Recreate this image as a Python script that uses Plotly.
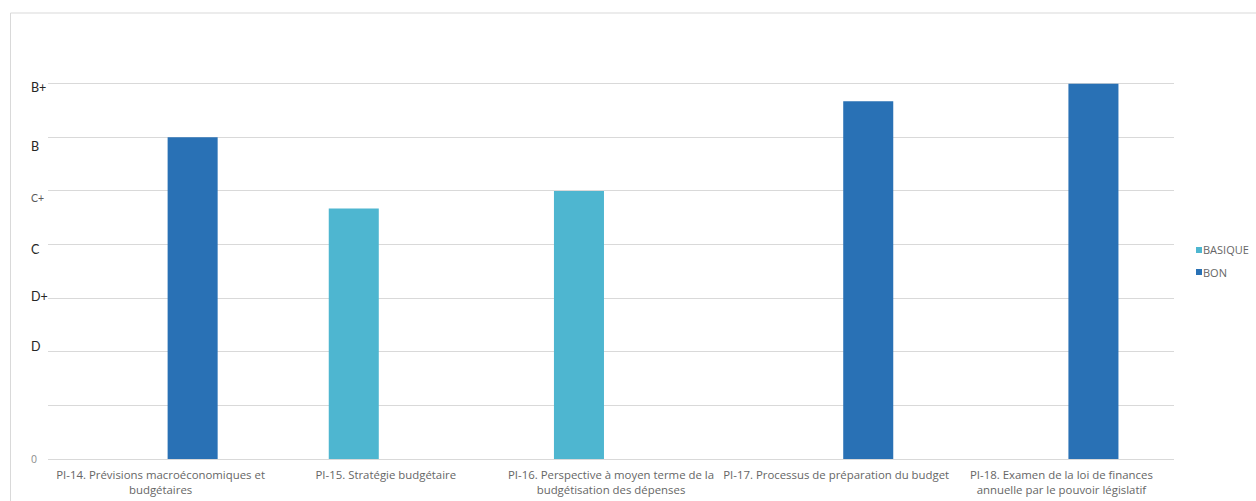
import plotly.graph_objects as go

# Indicateurs PEFA (PI-14 à PI-18) et notes converties sur une échelle numérique
categories = [
    "PI-14. Prévisions macroéconomiques et<br>budgétaires",
    "PI-15. Stratégie budgétaire",
    "PI-16. Perspective à moyen terme de la<br>budgétisation des dépenses",
    "PI-17. Processus de préparation du budget",
    "PI-18. Examen de la loi de finances<br>annuelle par le pouvoir législatif",
]
basique = [None, 4.67, 5, None, None]
bon = [6, None, None, 6.67, 7]

# Notes affichées à gauche de l'axe (valeur de la ligne de grille, décalage vertical en px)
grade_labels = ["B+", "B", "C+", "C", "D+", "D"]
grade_values = [7, 6, 5, 4, 3, 2]
grade_shift = [-4, -9, -7, -5, 2, 5]

series_names = ["BASIQUE", "BON"]
series_colors = ["#4EB6D0", "#2971B5"]

W, H = 1256, 501
ML, MR, MT, MB = 48, 82, 30, 42
PW, PH = W - ML - MR, H - MT - MB


def px_x(px):
    return (px - ML) / PW


def px_y(py):
    return (H - MB - py) / PH


fig = go.Figure()
fig.add_trace(go.Bar(x=categories, y=basique, name=series_names[0],
                     marker=dict(color=series_colors[0], line=dict(width=0))))
fig.add_trace(go.Bar(x=categories, y=bon, name=series_names[1],
                     marker=dict(color=series_colors[1], line=dict(width=0))))

font_family = "Lato, 'Open Sans', sans-serif"
label_family = "'Open Sans', Lato, sans-serif"

annotations = []
for lab, val, sh in zip(grade_labels, grade_values, grade_shift):
    small = lab == "C+"
    annotations.append(dict(
        x=px_x(29), xref="paper", xanchor="left",
        y=val, yref="y", yanchor="middle", yshift=sh,
        text=lab, showarrow=False,
        font=dict(family=font_family, size=10.5 if small else 12.5,
                  color="#595959" if small else "#262626"),
    ))

# Légende compacte à droite
legend_y = [250, 272]
shapes = []
for name, col, ly in zip(series_names, series_colors, legend_y):
    shapes.append(dict(type="rect", xref="paper", yref="paper",
                       x0=px_x(1196), x1=px_x(1202), y0=px_y(ly + 3), y1=px_y(ly - 3),
                       fillcolor=col, line=dict(width=0)))
    annotations.append(dict(
        x=px_x(1201), xref="paper", xanchor="left",
        y=px_y(ly), yref="paper", yanchor="middle",
        text=name, showarrow=False,
        font=dict(family=label_family, size=11, color="#666666"),
    ))

# Masque blanc sous la zone des notes (cache le début des lignes de grille)
shapes.append(dict(type="rect", xref="paper", yref="paper", layer="between",
                   x0=px_x(40), x1=px_x(87), y0=px_y(430), y1=px_y(20),
                   fillcolor="white", line=dict(width=0)))
# Cadre extérieur du graphique
shapes.append(dict(type="rect", xref="paper", yref="paper",
                   x0=px_x(10.5), x1=px_x(1270), y0=px_y(520), y1=px_y(13),
                   line=dict(color="#d9d9d9", width=1), fillcolor="rgba(0,0,0,0)"))

fig.update_layout(
    width=W, height=H,
    margin=dict(l=ML, r=MR, t=MT, b=MB, autoexpand=False),
    paper_bgcolor="white", plot_bgcolor="white",
    barmode="group", bargap=0.431, bargroupgap=0.219,
    showlegend=False,
    font=dict(family=font_family, color="#666666"),
    annotations=annotations,
    shapes=shapes,
)
fig.update_xaxes(
    type="category", showgrid=False, showline=False, zeroline=False,
    ticks="", ticklabelstandoff=8,
    tickfont=dict(family=label_family, size=11.4, color="#666666"),
    automargin=False,
)
fig.update_yaxes(
    range=[0, 8], tickmode="array", tickvals=list(range(9)),
    ticktext=["0"] + [""] * 8,
    showgrid=True, gridcolor="#d9d9d9", gridwidth=1.3,
    zeroline=True, zerolinecolor="#d9d9d9", zerolinewidth=1.3,
    showline=False, ticks="", ticklabelstandoff=10,
    tickfont=dict(family=label_family, size=10.5, color="#8c8c8c"),
    automargin=False,
)

fig.write_html("out.html")
